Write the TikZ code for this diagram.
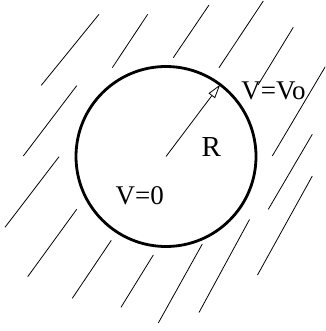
\documentclass[tikz,border=0pt]{standalone}
\usepackage{fontspec}
\setmainfont{Liberation Serif}
\usetikzlibrary{arrows.meta}
\begin{document}
\begin{tikzpicture}[x=1pt,y=-1pt,
  hatchline/.style={line width=0.8pt},
  lbl/.style={inner sep=0pt,font=\fontsize{27}{32}\selectfont},
  ring/.style={circle,draw,line width=2.8pt,minimum size=180pt,inner sep=0pt,outer sep=0pt}]
\useasboundingbox (0,0) rectangle (325,331);
\begin{scope}
\clip (0,0) rectangle (325,331);
\draw[hatchline] (99,14.3) -- (41.3,85.3);
\draw[hatchline] (147.7,14.3) -- (112.3,67.7);
\draw[hatchline] (209,5) -- (173.3,57.7);
\draw[hatchline] (263.3,1) -- (219,67.7);
\draw[hatchline] (293.3,27.3) -- (258,85);
\draw[hatchline] (326,65.5) -- (272.3,156);
\draw[hatchline] (76.7,85.7) -- (23.3,156);
\draw[hatchline] (59,156.7) -- (5,227.3);
\draw[hatchline] (312.3,134.3) -- (268.3,209.3);
\draw[hatchline] (312.3,176) -- (257.5,275);
\draw[hatchline] (76.7,209.3) -- (27.7,276.7);
\draw[hatchline] (111.3,240.3) -- (72.3,298.3);
\draw[hatchline] (153.3,255) -- (121,307.3);
\draw[hatchline] (202.3,244) -- (158.3,323);
\draw[hatchline] (249.5,219.5) -- (199,312.5);
\end{scope}
\node[ring] (c) at (166,156.5) {};
\coordinate (o) at (c.center);
\draw[line width=0.8pt,-{Triangle[fill=white,length=14pt,width=8pt,line width=0.8pt]}] (o) -- (c.53.4);
\node[lbl] (vo) at (273.5,91) {V=Vo};
\node[lbl,font=\fontsize{29}{34}\selectfont] (r) at (211.2,146.7) {R};
\node[lbl] (v0) at (139.7,195.7) {V=0};
\end{tikzpicture}
\end{document}
